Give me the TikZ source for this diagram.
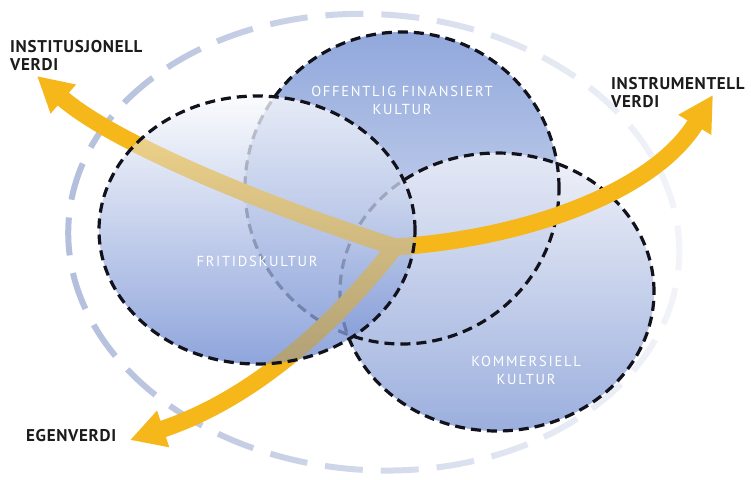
\documentclass[tikz,border=0pt]{standalone}
\usepackage{fontspec}
\setmainfont{PT Sans}
\newfontfamily\whitefont[LetterSpace=12]{PT Sans}
\newfontfamily\blackfont[LetterSpace=4]{PT Sans}
\usetikzlibrary{arrows.meta,fadings}
\definecolor{arrowc}{RGB}{245,183,25}
\definecolor{ringc}{RGB}{178,190,220}
\definecolor{dashc}{RGB}{18,18,28}
\definecolor{topA}{RGB}{145,168,220}
\definecolor{topB}{RGB}{225,231,245}
\definecolor{komA}{RGB}{238,240,248}
\definecolor{komM}{RGB}{226,231,246}
\definecolor{komB}{RGB}{138,161,216}
\definecolor{friA}{RGB}{250,251,253}
\definecolor{friM}{RGB}{205,216,242}
\definecolor{friB}{RGB}{112,140,210}
\definecolor{labc}{RGB}{28,28,28}
\tikzfading[name=fadeR, left color=transparent!0, middle color=transparent!10, right color=transparent!85]
\tikzset{
  outerring/.style={draw=ringc, line width=6pt, dash pattern=on 38pt off 18pt},
  cborder/.style={draw=dashc, line width=3.2pt, dash pattern=on 10pt off 6pt},
  varrow/.style={draw=arrowc, line width=17pt, -{Triangle[length=35pt,width=36pt]}},
  blacklab/.style={font=\blackfont\bfseries\fontsize{17}{18.5}\selectfont, text=labc, inner sep=0pt, align=left},
  whitelab/.style={font=\whitefont\fontsize{14.5}{18}\selectfont, text=white, inner sep=0pt, align=center}
}
\begin{document}
\begin{tikzpicture}[x=1pt,y=-1pt]
\useasboundingbox (0,0) rectangle (751,479);
\fill[white] (0,0) rectangle (751,479);
\coordinate (cL) at (257,230);
\coordinate (cT) at (402,188);
\coordinate (cK) at (497,292);
\coordinate (cO) at (374,242);
\coordinate (hub) at (395,247);
\coordinate (tipI) at (37,76);
\coordinate (tipR) at (713,95);
\coordinate (tipE) at (130,440);
% outer ring
\begin{scope}[rotate around={-4:(cO)}]
\path[outerring, path fading=fadeR] (cO) ellipse [x radius=306pt, y radius=228pt];
\end{scope}
% fills
\shade[top color=topA, bottom color=topB] (cT) ellipse [x radius=157pt, y radius=156pt];
\shade[top color=komA, middle color=komM, bottom color=komB, opacity=0.85] (cK) ellipse [x radius=157pt, y radius=139pt];
% borders
\path[cborder] (cT) ellipse [x radius=157pt, y radius=156pt];
\path[cborder] (cK) ellipse [x radius=157pt, y radius=139pt];
% arrows
\draw[varrow] (hub) .. controls (530,238) and (655,190) .. (tipR);
\draw[varrow] (hub) .. controls (330,330) and (250,400) .. (tipE);
\draw[varrow] (hub) .. controls (250,200) and (110,140) .. (tipI);
% left circle
\shade[top color=friA, middle color=friM, bottom color=friB, opacity=0.78] (cL) ellipse [x radius=158pt, y radius=134pt];
\begin{scope}
\clip (cL) ellipse [x radius=158pt, y radius=134pt];
\begin{scope}[transparency group, opacity=0.35]
\draw[varrow] (hub) .. controls (530,238) and (655,190) .. (tipR);
\draw[varrow] (hub) .. controls (330,330) and (250,400) .. (tipE);
\draw[varrow] (hub) .. controls (250,200) and (110,140) .. (tipI);
\end{scope}
\end{scope}
\path[cborder] (cL) ellipse [x radius=158pt, y radius=134pt];
% labels
\node[whitelab, anchor=north] (lT) at (402,86) {OFFENTLIG FINANSIERT\\KULTUR};
\node[whitelab, anchor=north] (lL) at (257,256) {FRITIDSKULTUR};
\node[whitelab, anchor=north] (lK) at (526,356) {KOMMERSIELL\\KULTUR};
\node[blacklab, anchor=north west] (lI) at (10,40) {INSTITUSJONELL\\VERDI};
\node[blacklab, anchor=north west] (lR) at (611,77) {INSTRUMENTELL\\VERDI};
\node[blacklab, anchor=north west] (lE) at (26,429) {EGENVERDI};
\end{tikzpicture}
\end{document}
